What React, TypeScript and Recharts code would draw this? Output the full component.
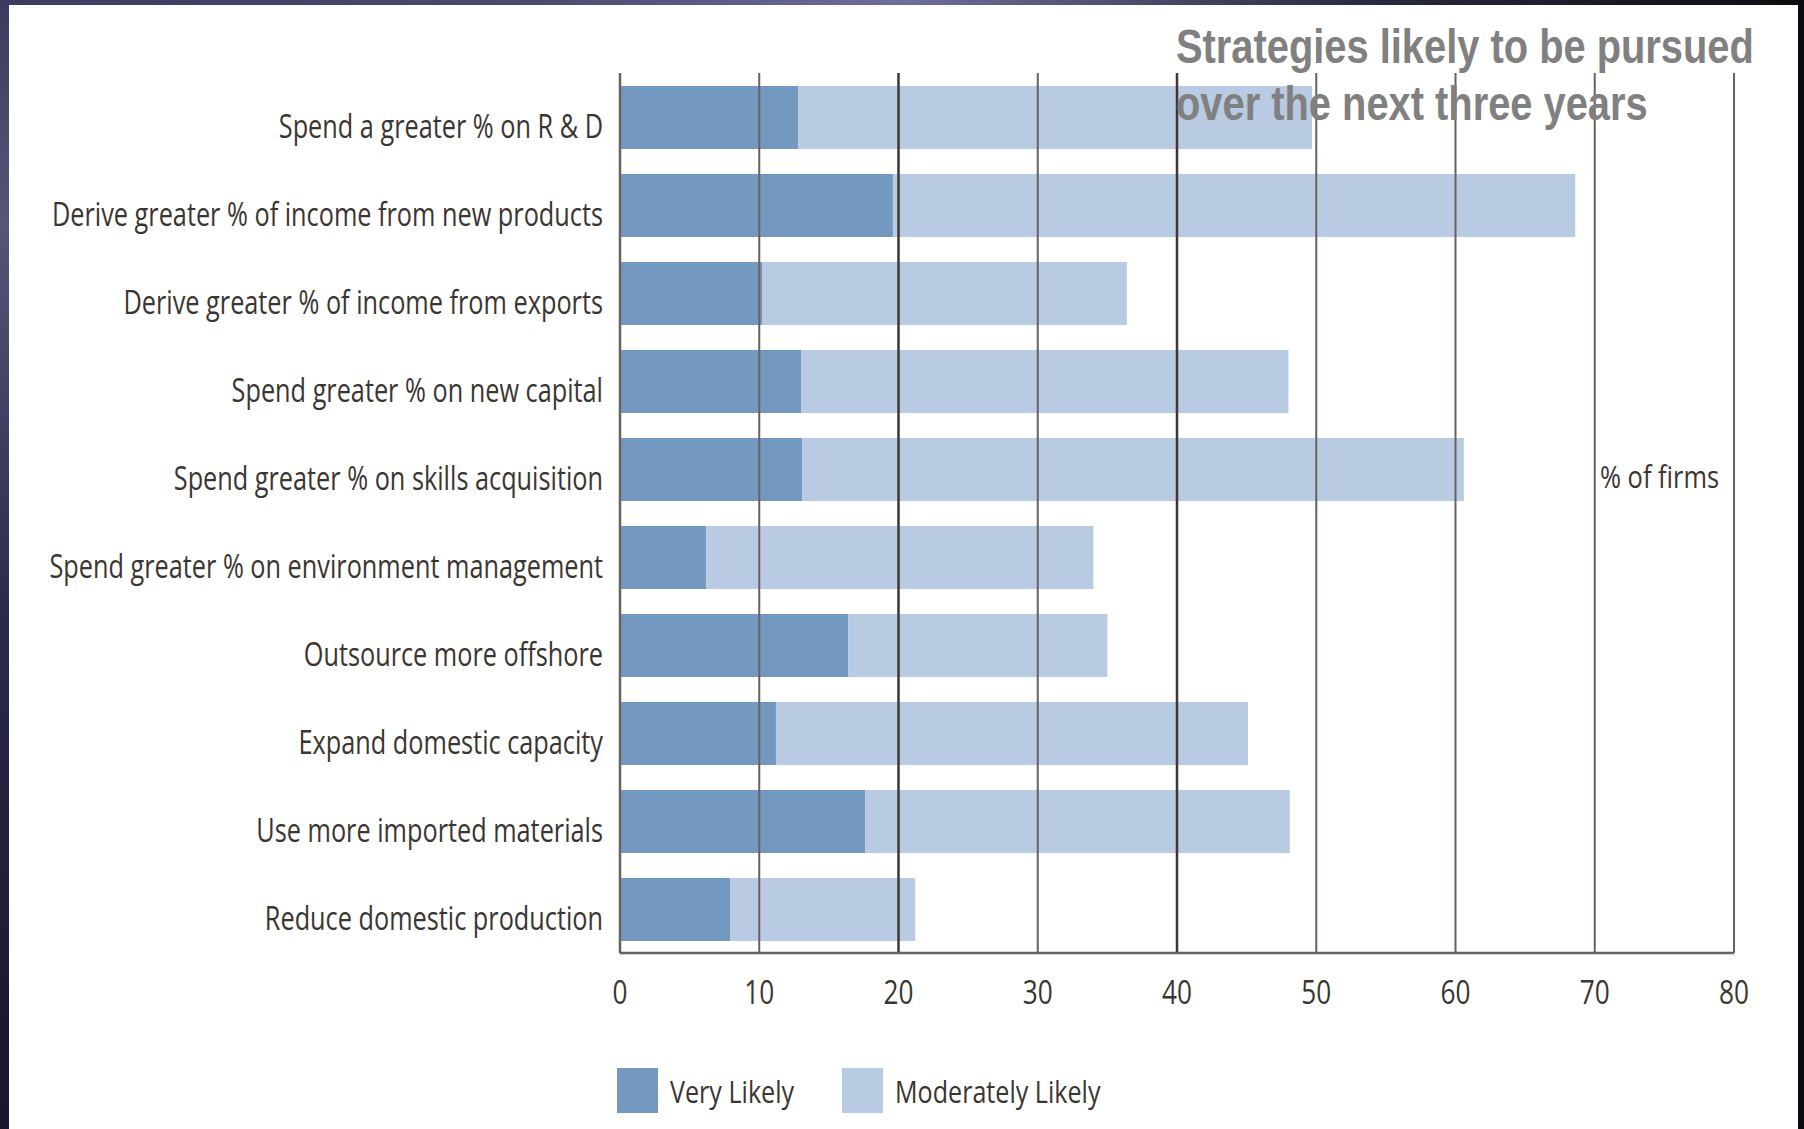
import { Bar, BarChart, Legend, ReferenceLine, XAxis, YAxis } from "recharts";

const strategies = [
  "Spend a greater % on R & D",
  "Derive greater % of income from new products",
  "Derive greater % of income from exports",
  "Spend greater % on new capital",
  "Spend greater % on skills acquisition",
  "Spend greater % on environment management",
  "Outsource more offshore",
  "Expand domestic capacity",
  "Use more imported materials",
  "Reduce domestic production",
];
const veryLikely = [12.8, 19.6, 10.2, 13.0, 13.1, 6.2, 16.4, 11.2, 17.6, 7.9];
const moderatelyLikely = [36.9, 49.0, 26.2, 35.0, 47.5, 27.8, 18.6, 33.9, 30.5, 13.3];
const seriesNames = ["Very Likely", "Moderately Likely"];
const xTicks = [0, 10, 20, 30, 40, 50, 60, 70, 80];
const gridLines = [10, 20, 30, 40, 50, 60, 70, 80];

const data = strategies.map((name, i) => ({
  name,
  very: veryLikely[i],
  moderate: moderatelyLikely[i],
}));

const DARK = "#7399c1";
const LIGHT = "#b8cbe2";
const TEXT = "#3b3531";
const LINE = "#6a615c";
const FONT = "'Open Sans', 'Noto Sans', sans-serif";

function CategoryTick({ x, y, payload }: any) {
  return (
    <g transform={`translate(${x - 9},${y + 21})`}>
      <text transform="scale(0.79,1)" textAnchor="end" fontSize={32} fontFamily={FONT} fill={TEXT}>
        {payload.value}
      </text>
    </g>
  );
}

function ValueTick({ x, y, payload }: any) {
  return (
    <g transform={`translate(${x},${y + 43})`}>
      <text transform="scale(0.82,1)" textAnchor="middle" fontSize={32} fontFamily={FONT} fill={TEXT}>
        {payload.value}
      </text>
    </g>
  );
}

function LegendContent({ payload }: any) {
  const items = [...(payload || [])].sort(
    (a: any, b: any) => seriesNames.indexOf(a.value) - seriesNames.indexOf(b.value)
  );
  return (
    <div style={{ display: "flex", alignItems: "center" }}>
      {items.map((p: any) => (
        <div key={p.value} style={{ display: "flex", alignItems: "center", marginRight: 19 }}>
          <span style={{ display: "inline-block", width: 41, height: 45, background: p.color }} />
          <span
            style={{
              display: "inline-block",
              marginLeft: 12,
              fontSize: 31,
              fontFamily: FONT,
              color: TEXT,
              transform: "scaleX(0.81)",
              transformOrigin: "left center",
              whiteSpace: "nowrap",
            }}
          >
            {p.value}
          </span>
        </div>
      ))}
    </div>
  );
}

export default function App() {
  return (
    <div
      style={{
        position: "absolute",
        left: 0,
        top: 0,
        width: 1804,
        height: 1129,
        overflow: "hidden",
        background: "linear-gradient(180deg, #3c3c62 0%, #55557c 20%, #2a2a4a 55%, #15152e 100%)",
      }}
    >
      <div
        style={{
          position: "absolute",
          top: 0,
          left: 0,
          width: 1804,
          height: 6,
          background: "linear-gradient(90deg, #3c3c62 0%, #4a4a72 30%, #6e6e9c 50%, #2b2b40 75%, #0c0c12 100%)",
        }}
      />
      <div style={{ position: "absolute", top: 0, right: 0, width: 6, height: 1129, background: "#0a0a10" }} />
      <div style={{ position: "absolute", left: 9, top: 5, width: 1789, height: 1124, background: "#ffffff" }} />

      <div style={{ position: "absolute", left: 0, top: 0 }}>
        <BarChart
          width={1804}
          height={1129}
          data={data}
          layout="vertical"
          margin={{ top: 73, right: 70, bottom: 146, left: 20 }}
          barSize={63}
        >
          <XAxis
            type="number"
            domain={[0, 80]}
            ticks={xTicks}
            height={30}
            tickLine={false}
            axisLine={{ stroke: LINE, strokeWidth: 2.5 }}
            tick={<ValueTick />}
          />
          <YAxis
            type="category"
            dataKey="name"
            width={600}
            interval={0}
            tickLine={false}
            axisLine={{ stroke: LINE, strokeWidth: 2.5 }}
            tick={<CategoryTick />}
          />
          <Legend
            layout="horizontal"
            verticalAlign="middle"
            align="center"
            content={<LegendContent />}
            wrapperStyle={{ position: "absolute", left: 617, top: 1068, width: "auto", bottom: "auto" }}
          />
          <Bar dataKey="very" name={seriesNames[0]} stackId="a" fill={DARK} isAnimationActive={false} />
          <Bar dataKey="moderate" name={seriesNames[1]} stackId="a" fill={LIGHT} isAnimationActive={false} />
          {gridLines.map((v) => (
            <ReferenceLine
              key={v}
              x={v}
              stroke={v === 20 || v === 40 ? "#3f3531" : LINE}
              strokeWidth={v === 20 || v === 40 ? 2.5 : 2}
            />
          ))}
        </BarChart>
      </div>

      <div
        style={{
          position: "absolute",
          left: 1176,
          top: 18,
          fontFamily: "'Liberation Sans', Arial, sans-serif",
          fontWeight: 700,
          fontSize: 48,
          lineHeight: "57px",
          color: "#808080",
          transform: "scaleX(0.83)",
          transformOrigin: "left top",
          whiteSpace: "nowrap",
        }}
      >
        Strategies likely to be pursued
        <br />
        over the next three years
      </div>

      <div
        style={{
          position: "absolute",
          left: 1600,
          top: 455,
          fontFamily: FONT,
          fontSize: 31,
          color: TEXT,
          transform: "scaleX(0.82)",
          transformOrigin: "left top",
          whiteSpace: "nowrap",
        }}
      >
        % of firms
      </div>
    </div>
  );
}
